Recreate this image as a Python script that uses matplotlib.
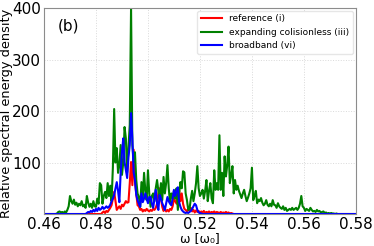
import numpy as np
from matplotlib import pyplot as plt

# frequency grid, step 0.0005 from 0.46 to 0.58
omega = np.round(np.arange(0.46, 0.58 + 0.00025, 0.0005), 4)

# reference (i)
red = [
    0, 0, 0, 0, 0, 0, 0, 0, 0, 0, 0, 0, 0, 0, 0, 0, 0, 0, 0, 0,
    0, 0, 0, 0, 0, 0, 0, 0, 0, 0, 0, 0, 0, 0, 0, 0, 0, 0, 0, 0,
    0, 0, 0, 0, 0, 3, 5, 2, 6, 4, 8, 12, 17, 30, 43, 25, 8, 12, 15, 10,
    18, 15, 20, 25, 22, 23, 60, 101, 56, 125, 62, 40, 17, 15, 8, 10, 5, 8, 6, 10,
    7, 5, 8, 6, 10, 8, 12, 20, 40, 50, 30, 14, 6, 10, 5, 8, 5, 10, 8, 15,
    30, 25, 20, 35, 45, 25, 40, 20, 10, 8, 5, 10, 6, 12, 5, 8, 3, 7, 4, 6,
    2, 5, 3, 6, 2, 4, 3, 5, 2, 4, 3, 5, 2, 4, 3, 2, 4, 2, 3, 2,
    4, 2, 3, 1, 2, 1, 0, 0, 0, 0, 0, 0, 0, 0, 0, 0, 0, 0, 0, 0,
    0, 0, 0, 0, 0, 0, 0, 0, 0, 0, 0, 0, 0, 0, 0, 0, 0, 0, 0, 0,
    0, 0, 0, 0, 0, 0, 0, 0, 0, 0, 0, 0, 0, 0, 0, 0, 0, 0, 0, 0,
    0, 0, 0, 0, 0, 0, 0, 0, 0, 0, 0, 0, 0, 0, 0, 0, 0, 0, 0, 0,
    0, 0, 0, 0, 0, 0, 0, 0, 0, 0, 0, 0, 0, 0, 0, 0, 0, 0, 0, 0,
    0,
]

# expanding colisionless (iii)
green = [
    0, 0, 0, 0, 0, 0, 0, 0, 0, 0, 1, 4, 5, 3, 4, 2, 5, 3, 8, 15,
    35, 25, 20, 28, 18, 22, 15, 20, 17, 25, 15, 18, 12, 35, 22, 14, 20, 12, 25, 15,
    14, 30, 20, 60, 56, 20, 35, 43, 31, 60, 35, 55, 25, 90, 204, 100, 128, 80, 95, 134,
    76, 100, 169, 147, 81, 130, 173, 400, 134, 101, 120, 66, 40, 33, 14, 62, 30, 80, 45, 27,
    85, 40, 14, 35, 40, 25, 50, 66, 45, 30, 60, 27, 72, 40, 60, 95, 50, 21, 40, 31,
    45, 30, 50, 8, 40, 62, 50, 83, 81, 40, 27, 8, 10, 30, 45, 25, 40, 60, 93, 50,
    35, 40, 47, 30, 45, 66, 25, 45, 60, 30, 21, 85, 47, 60, 47, 153, 47, 80, 35, 112,
    73, 95, 131, 60, 75, 93, 40, 66, 47, 55, 45, 38, 31, 40, 47, 35, 25, 32, 40, 50,
    90, 27, 35, 45, 21, 28, 25, 31, 22, 17, 20, 27, 18, 15, 20, 15, 27, 18, 17, 12,
    21, 15, 12, 10, 15, 8, 12, 6, 8, 10, 8, 12, 8, 10, 12, 8, 12, 20, 35, 15,
    12, 6, 10, 8, 6, 12, 8, 5, 6, 4, 8, 5, 6, 3, 4, 5, 2, 3, 1, 2,
    1, 2, 1, 1, 0, 1, 0, 0, 0, 0, 0, 0, 0, 0, 0, 0, 0, 0, 0, 0,
    0,
]

# broadband (vi)
blue = [
    0, 0, 0, 0, 0, 0, 0, 0, 0, 0, 0, 0, 0, 0, 0, 0, 0, 0, 0, 0,
    0, 0, 0, 0, 0, 0, 0, 0, 0, 0, 0, 0, 0, 2, 4, 3, 6, 4, 8, 5,
    10, 6, 12, 8, 10, 14, 10, 12, 15, 12, 14, 18, 25, 30, 37, 50, 62, 45, 23, 80,
    120, 147, 101, 85, 70, 110, 134, 196, 147, 81, 66, 37, 27, 20, 14, 40, 23, 30, 40, 30,
    21, 33, 33, 20, 12, 30, 47, 20, 8, 37, 30, 21, 15, 8, 20, 33, 25, 20, 17, 30,
    47, 35, 45, 52, 23, 14, 8, 5, 3, 2, 3, 2, 4, 6, 10, 15, 20, 17, 8, 3,
    2, 1, 0, 0, 0, 0, 0, 0, 0, 0, 0, 0, 0, 0, 0, 0, 0, 0, 0, 0,
    0, 0, 0, 0, 0, 0, 0, 0, 0, 0, 0, 0, 0, 0, 0, 0, 0, 0, 0, 0,
    0, 0, 0, 0, 0, 0, 0, 0, 0, 0, 0, 0, 0, 0, 0, 0, 0, 0, 0, 0,
    0, 0, 0, 0, 0, 0, 0, 0, 0, 0, 0, 0, 0, 0, 0, 0, 0, 0, 0, 0,
    0, 0, 0, 0, 0, 0, 0, 0, 0, 0, 0, 0, 0, 0, 0, 0, 0, 0, 0, 0,
    0, 0, 0, 0, 0, 0, 0, 0, 0, 0, 0, 0, 0, 0, 0, 0, 0, 0, 0, 0,
    0,
]

labels = ['reference (i)', 'expanding colisionless (iii)', 'broadband (vi)']
x_ticks = [0.46, 0.48, 0.50, 0.52, 0.54, 0.56, 0.58]
y_ticks = [100, 200, 300, 400]

fig = plt.figure(figsize=(3.74, 2.46), dpi=100)
ax = fig.add_axes([0.1176, 0.130, 0.834, 0.837])

ax.plot(omega, red, color='red', lw=1.5, label=labels[0])
ax.plot(omega, green, color='green', lw=1.5, label=labels[1])
ax.plot(omega, blue, color='blue', lw=1.5, label=labels[2])

ax.set_xlim(0.46, 0.58)
ax.set_ylim(0, 400)
ax.set_xticks(x_ticks)
ax.set_xticklabels(['%.2f' % t for t in x_ticks])
ax.set_yticks(y_ticks)
ax.tick_params(labelsize=11, length=0, pad=2)
ax.grid(True, color='0.85', linestyle=':', linewidth=0.7)
for s in ax.spines.values():
    s.set_color('0.55')

ax.set_xlabel('ω [ω₀]', fontsize=9, labelpad=0)
ax.set_ylabel('Relative spectral energy density', fontsize=9.3)
ax.yaxis.set_label_coords(-0.1, 0.49)
ax.text(0.08, 0.915, '(b)', transform=ax.transAxes, fontsize=11, ha='center', va='center')
ax.legend(loc='upper right', fontsize=6.5, handlelength=2.4, borderaxespad=0.3,
          framealpha=1, edgecolor='0.9', fancybox=True)

fig.savefig('out.png', dpi=100)
